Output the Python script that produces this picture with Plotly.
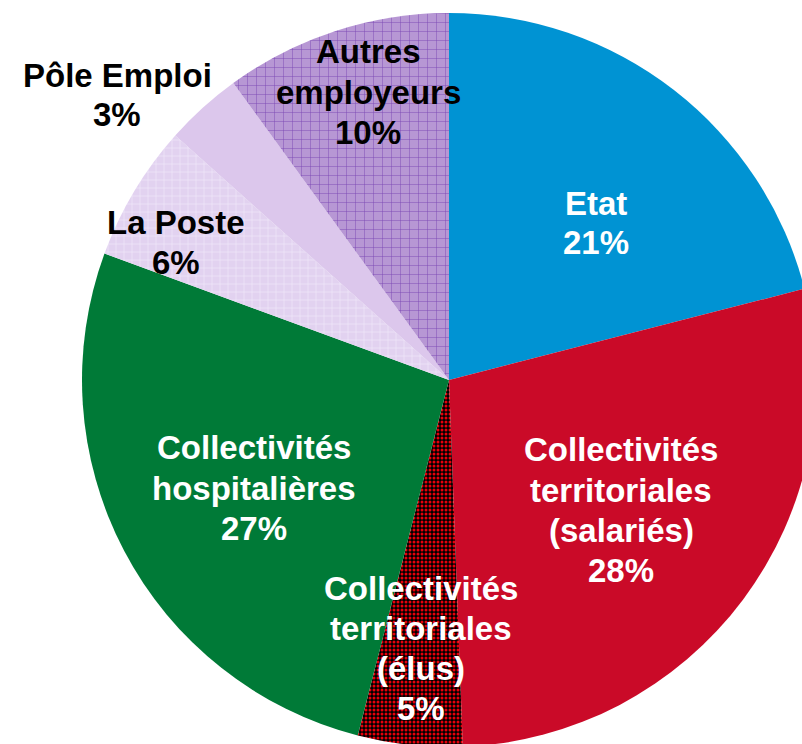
import plotly.graph_objects as go

# ---- data ----
categories = [
    "Etat",
    "Collectivités territoriales (salariés)",
    "Collectivités territoriales (élus)",
    "Collectivités hospitalières",
    "La Poste",
    "Pôle Emploi",
    "Autres employeurs",
]
values = [21.0, 28.4, 4.6, 26.6, 6.0, 3.4, 10.0]
pct_labels = ["21%", "28%", "5%", "27%", "6%", "3%", "10%"]
label_lines = [
    ["Etat"],
    ["Collectivités", "territoriales", "(salariés)"],
    ["Collectivités", "territoriales", "(élus)"],
    ["Collectivités", "hospitalières"],
    ["La Poste"],
    ["Pôle Emploi"],
    ["Autres", "employeurs"],
]

# ---- styles ----
colors = ["#0093D3", "#CA0A28", "#000000", "#007A37", "#E2D2F0", "#DCC7EC", "#B797D4"]
pattern_shapes = ["", "", ".", "", "+", "", "+"]
pattern_fg = ["#0093D3", "#CA0A28", "#E8000A", "#007A37", "#F1E8F8", "#DCC7EC", "#7B45B3"]
pattern_size = [8, 8, 4, 8, 8, 8, 9]
pattern_solid = [0.3, 0.3, 0.45, 0.3, 0.15, 0.3, 0.1]
text_colors = ["white", "white", "white", "white", "black", "black", "black"]
# label block centres in pixels (x, y from top-left)
label_px = [(596, 223), (621, 510), (421, 648), (254, 488), (176, 242), (117, 95), (368, 92)]
LINE_STEP = 40
FONT_SIZE = 33

W, H = 830, 760
cx, cy, r = 449, 380, 367

fig = go.Figure(
    go.Pie(
        labels=categories,
        values=values,
        sort=False,
        direction="clockwise",
        rotation=0,
        textinfo="none",
        hoverinfo="label+percent",
        marker=dict(
            colors=colors,
            line=dict(width=0),
            pattern=dict(
                shape=pattern_shapes,
                fgcolor=pattern_fg,
                bgcolor=colors,
                size=pattern_size,
                solidity=pattern_solid,
                fillmode="replace",
            ),
        ),
        domain=dict(
            x=[(cx - r) / W, (cx + r) / W],
            y=[(H - cy - r) / H, (H - cy + r) / H],
        ),
        showlegend=False,
    )
)

annotations = []
for lines, pct, (px, py), col in zip(label_lines, pct_labels, label_px, text_colors):
    all_lines = lines + [pct]
    n = len(all_lines)
    for i, line in enumerate(all_lines):
        ly = py + (i - (n - 1) / 2) * LINE_STEP
        annotations.append(
            dict(
                text=f"<b>{line}</b>",
                x=px / W,
                y=1 - ly / H,
                xref="paper",
                yref="paper",
                xanchor="center",
                yanchor="middle",
                showarrow=False,
                align="center",
                font=dict(family="Liberation Sans, Arial, sans-serif", size=FONT_SIZE, color=col),
            )
        )

fig.update_layout(
    width=W,
    height=H,
    margin=dict(l=0, r=0, t=0, b=0),
    paper_bgcolor="white",
    plot_bgcolor="white",
    annotations=annotations,
)

fig.write_html(
    "out.html",
    config={"displayModeBar": False},
    post_script="document.body.style.margin='0';document.body.style.overflow='hidden';document.documentElement.style.overflow='hidden';",
)
